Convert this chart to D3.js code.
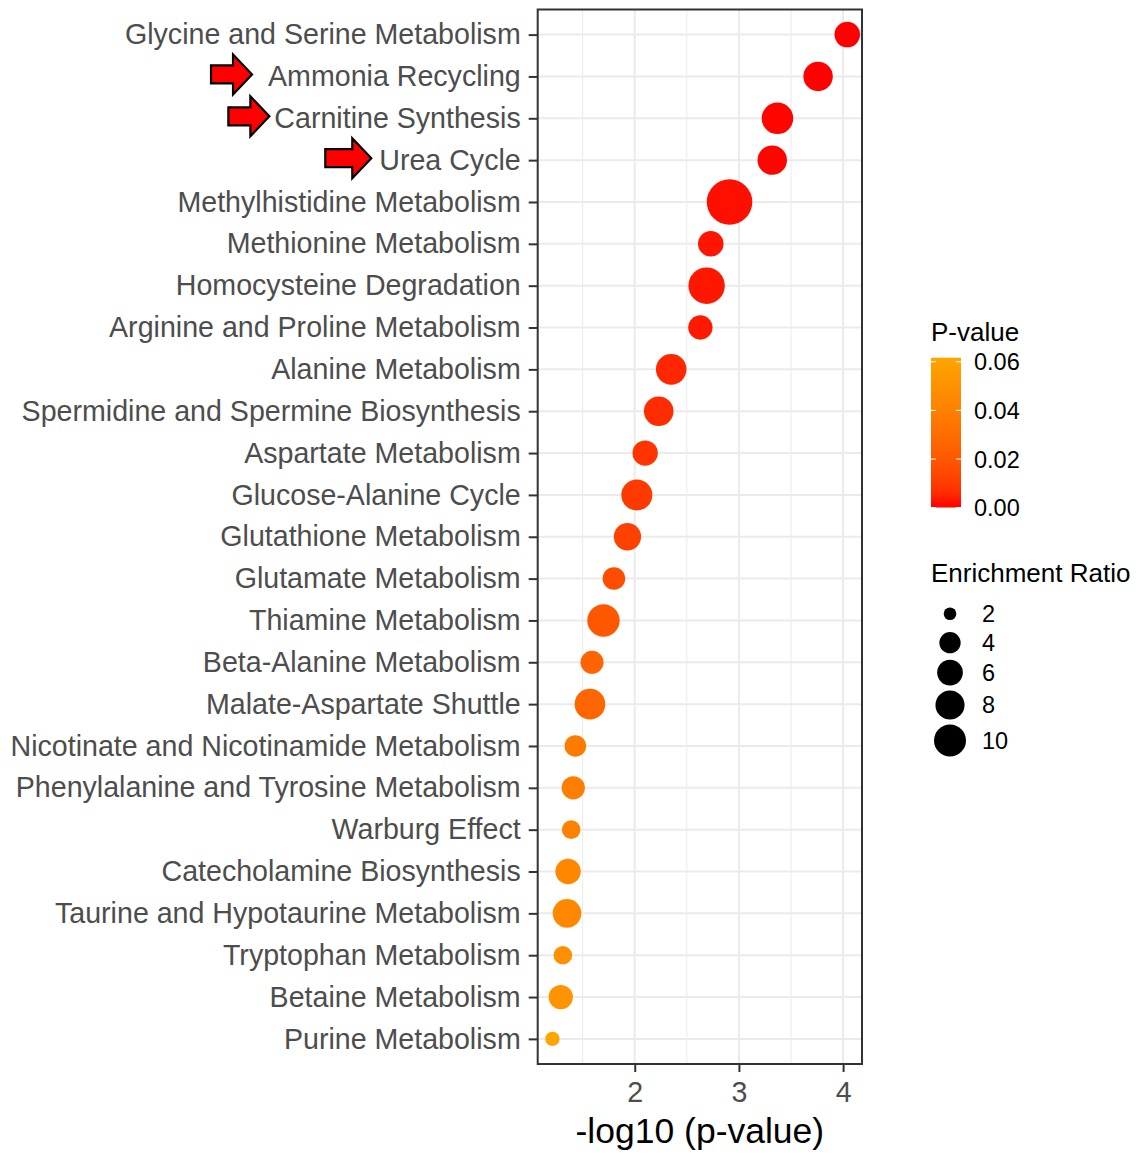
<!DOCTYPE html>
<html>
<head>
<meta charset="utf-8">
<script src="https://cdn.jsdelivr.net/npm/d3@7"></script>
<style>
  body { margin: 0; background: #fff; }
  svg { font-family: "Liberation Sans", Arial, Helvetica, sans-serif; }
</style>
</head>
<body>
<svg width="1142" height="1156"></svg>
<script>
var pathways = [
  "Glycine and Serine Metabolism",
  "Ammonia Recycling",
  "Carnitine Synthesis",
  "Urea Cycle",
  "Methylhistidine Metabolism",
  "Methionine Metabolism",
  "Homocysteine Degradation",
  "Arginine and Proline Metabolism",
  "Alanine Metabolism",
  "Spermidine and Spermine Biosynthesis",
  "Aspartate Metabolism",
  "Glucose-Alanine Cycle",
  "Glutathione Metabolism",
  "Glutamate Metabolism",
  "Thiamine Metabolism",
  "Beta-Alanine Metabolism",
  "Malate-Aspartate Shuttle",
  "Nicotinate and Nicotinamide Metabolism",
  "Phenylalanine and Tyrosine Metabolism",
  "Warburg Effect",
  "Catecholamine Biosynthesis",
  "Taurine and Hypotaurine Metabolism",
  "Tryptophan Metabolism",
  "Betaine Metabolism",
  "Purine Metabolism"
];
var negLog10P = [4.04, 3.76, 3.37, 3.32, 2.91, 2.73, 2.69, 2.63, 2.35, 2.23, 2.10, 2.02, 1.93,
  1.80, 1.70, 1.59, 1.57, 1.43, 1.41, 1.39, 1.36, 1.35, 1.31, 1.29, 1.21];
var enrichment = [5.9, 8.2, 9.7, 8.2, 23.2, 5.9, 13.6, 5.3, 9.0, 8.3, 5.8, 9.3, 6.9,
  4.5, 10.3, 4.7, 9.0, 4.1, 4.8, 3.1, 5.8, 7.7, 3.1, 5.3, 2.2];

var xTicks = [2, 3, 4];
var xMinor = [1.5, 2.5, 3.5];
var pTicks = [0, 0.02, 0.04, 0.06];
var sizeBreaks = [2, 4, 6, 8, 10];
var marked = ["Ammonia Recycling", "Carnitine Synthesis", "Urea Cycle"];

var data = pathways.map(function (d, i) {
  return { name: d, x: negLog10P[i], p: Math.pow(10, -negLog10P[i]), ratio: enrichment[i] };
});

var svg = d3.select("svg");
var panel = { left: 537.7, right: 862, top: 9.5, bottom: 1064 };

var ext = d3.extent(negLog10P);
var pad = (ext[1] - ext[0]) * 0.05;
var x = d3.scaleLinear().domain([ext[0] - pad, ext[1] + pad]).range([panel.left, panel.right]);
var y = d3.scalePoint().domain(pathways).range([panel.top, panel.bottom]).padding(0.6);

var pExt = d3.extent(data, function (d) { return d.p; });
var color = d3.scaleLinear().domain(pExt).range(["red", "orange"]).interpolate(d3.interpolateLab);

// size: rescale then sqrt, like ggplot's area palette
var sizeRescale = d3.scaleLinear().domain([1.9, 10]).range([0, 1]);
var sizeSqrt = d3.scaleSqrt().domain([0, 1]).range([5.1, 16]);
function radius(v) { return sizeSqrt(Math.max(0, sizeRescale(v))); }

// grid
var grid = svg.append("g");
grid.selectAll(".minor").data(xMinor).enter().append("line")
  .attr("x1", x).attr("x2", x).attr("y1", panel.top).attr("y2", panel.bottom)
  .attr("stroke", "#ebebeb").attr("stroke-width", 1);
grid.selectAll(".major").data(xTicks).enter().append("line")
  .attr("x1", x).attr("x2", x).attr("y1", panel.top).attr("y2", panel.bottom)
  .attr("stroke", "#ebebeb").attr("stroke-width", 2);
grid.selectAll(".hmajor").data(pathways).enter().append("line")
  .attr("x1", panel.left).attr("x2", panel.right).attr("y1", y).attr("y2", y)
  .attr("stroke", "#ebebeb").attr("stroke-width", 2);

// points
svg.append("g").selectAll("circle").data(data).enter().append("circle")
  .attr("cx", function (d) { return x(d.x); })
  .attr("cy", function (d) { return y(d.name); })
  .attr("r", function (d) { return radius(d.ratio); })
  .attr("fill", function (d) { return color(d.p); });

// panel border
svg.append("rect")
  .attr("x", panel.left).attr("y", panel.top)
  .attr("width", panel.right - panel.left).attr("height", panel.bottom - panel.top)
  .attr("fill", "none").attr("stroke", "#333").attr("stroke-width", 2);

// axes
var yAxis = svg.append("g")
  .attr("transform", "translate(" + panel.left + ",0)")
  .call(d3.axisLeft(y).tickSize(9).tickPadding(8));
var xAxis = svg.append("g")
  .attr("transform", "translate(0," + panel.bottom + ")")
  .call(d3.axisBottom(x).tickValues(xTicks).tickSize(8).tickPadding(10).tickFormat(d3.format("d")));

[yAxis, xAxis].forEach(function (a) {
  a.select(".domain").remove();
  a.selectAll(".tick line").attr("stroke", "#333").attr("stroke-width", 2);
  a.selectAll(".tick text").attr("fill", "#4d4d4d").style("font-size", "28.6px");
});

svg.append("text")
  .attr("x", (panel.left + panel.right) / 2).attr("y", 1143)
  .attr("text-anchor", "middle").style("font-size", "35.5px").attr("fill", "#000")
  .text("-log10 (p-value)");

// red arrows next to the marked pathways
var arrowGap = { "Ammonia Recycling": 16, "Carnitine Synthesis": 5, "Urea Cycle": 8 };
var arrowBody = { "Ammonia Recycling": 22, "Carnitine Synthesis": 22, "Urea Cycle": 27 };
yAxis.selectAll(".tick").filter(function (d) { return marked.indexOf(d) >= 0; })
  .each(function (d) {
    var bb = d3.select(this).select("text").node().getBBox();
    var tip = panel.left + bb.x - arrowGap[d];
    var cy = y(d) - 2;
    var head = 19, body = arrowBody[d];
    var pts = [
      [tip - head - body, cy - 9], [tip - head, cy - 9], [tip - head, cy - 20],
      [tip, cy], [tip - head, cy + 20], [tip - head, cy + 9], [tip - head - body, cy + 9]
    ];
    svg.append("polygon")
      .attr("points", pts.map(function (p) { return p.join(","); }).join(" "))
      .attr("fill", "#ff0000").attr("stroke", "#000").attr("stroke-width", 2.2)
      .attr("stroke-linejoin", "miter");
  });

// colour legend
var bar = { x: 931, w: 30, top: 357.7, bottom: 507.5 };
var barY = d3.scaleLinear().domain(pExt).range([bar.bottom, bar.top]);
var defs = svg.append("defs");
var grad = defs.append("linearGradient").attr("id", "pgrad")
  .attr("x1", 0).attr("y1", 1).attr("x2", 0).attr("y2", 0);
d3.range(0, 1.0001, 0.1).forEach(function (t) {
  grad.append("stop").attr("offset", t)
    .attr("stop-color", color(pExt[0] + t * (pExt[1] - pExt[0])));
});
svg.append("text").attr("x", 931).attr("y", 341).style("font-size", "26px").text("P-value");
svg.append("rect").attr("x", bar.x).attr("y", bar.top)
  .attr("width", bar.w).attr("height", bar.bottom - bar.top).attr("fill", "url(#pgrad)");
var pt = svg.append("g").selectAll("g").data(pTicks).enter().append("g");
pt.append("line").attr("x1", bar.x).attr("x2", bar.x + 5)
  .attr("y1", function (d) { return Math.min(barY(d), bar.bottom); })
  .attr("y2", function (d) { return Math.min(barY(d), bar.bottom); })
  .attr("stroke", "#fff").attr("stroke-width", 1);
pt.append("line").attr("x1", bar.x + bar.w - 5).attr("x2", bar.x + bar.w)
  .attr("y1", function (d) { return Math.min(barY(d), bar.bottom); })
  .attr("y2", function (d) { return Math.min(barY(d), bar.bottom); })
  .attr("stroke", "#fff").attr("stroke-width", 1);
pt.append("text").attr("x", 974).attr("y", function (d) { return barY(d); })
  .attr("dy", "0.36em").style("font-size", "23.5px").text(d3.format(".2f"));

// size legend
svg.append("text").attr("x", 931).attr("y", 582).style("font-size", "26px").text("Enrichment Ratio");
var keyY = [], cur = 613.7, prevH = null;
sizeBreaks.forEach(function (v) {
  var h = Math.max(29, 2 * radius(v) + 5);
  if (prevH !== null) cur += (prevH + h) / 2;
  keyY.push(cur);
  prevH = h;
});
var sk = svg.append("g").selectAll("g").data(sizeBreaks).enter().append("g");
sk.append("circle").attr("cx", 950).attr("cy", function (d, i) { return keyY[i]; })
  .attr("r", radius).attr("fill", "#000");
sk.append("text").attr("x", 982).attr("y", function (d, i) { return keyY[i]; })
  .attr("dy", "0.36em").style("font-size", "23.5px").text(function (d) { return d; });
</script>
</body>
</html>
